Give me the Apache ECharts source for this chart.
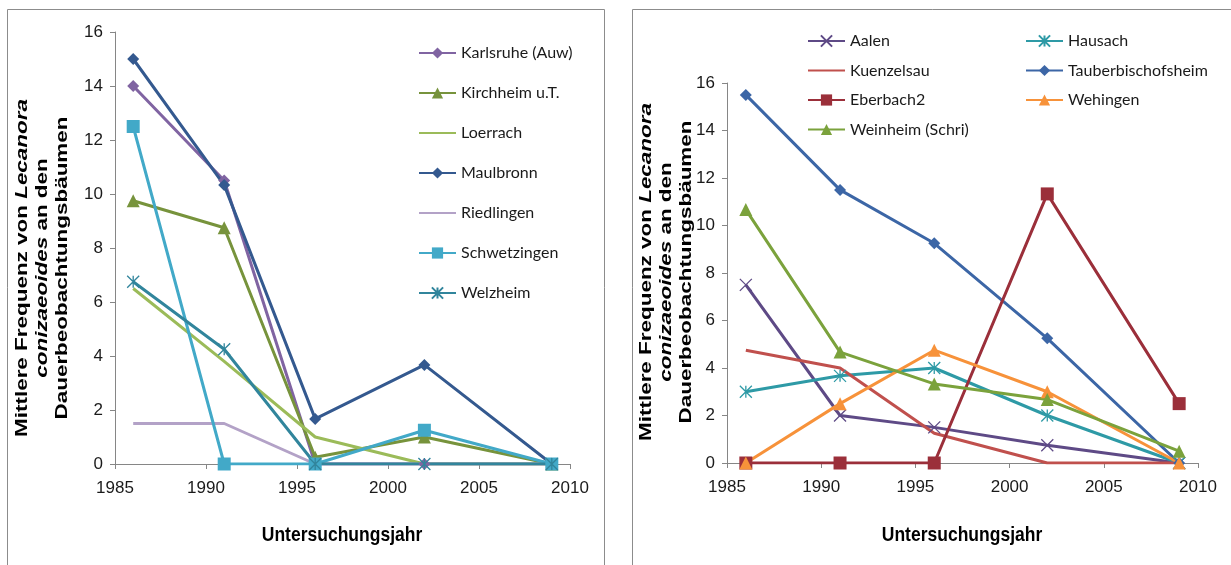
<!DOCTYPE html>
<html>
<head>
<meta charset="utf-8">
<script src="https://cdn.jsdelivr.net/npm/echarts@6/dist/echarts.min.js"></script>
<style>
  html, body { margin: 0; padding: 0; background: #ffffff; }
  #chart { width: 1231px; height: 565px; }
</style>
</head>
<body>
<div id="chart"></div>
<script>
// Survey years (x values shared by all sites)
const years = [1986, 1991, 1996, 2002, 2009];
const xTicks = { min: 1985, max: 2010, step: 5 };
const yTicks = { min: 0, max: 16, step: 2 };

// Left panel: mean frequency per site
const karlsruhe    = [14, 10.5, 0, 0, 0];
const kirchheim    = [9.75, 8.75, 0.25, 1.0, 0];
const loerrach     = [6.5, 3.8, 1.0, 0, 0];
const maulbronn    = [15, 10.33, 1.67, 3.67, 0];
const riedlingen   = [1.5, 1.5, 0, 0, 0];
const schwetzingen = [12.5, 0, 0, 1.25, 0];
const welzheim     = [6.75, 4.25, 0, 0, 0];

// Right panel: mean frequency per site
const aalen        = [7.5, 2.0, 1.5, 0.75, 0];
const hausach      = [3.0, 3.67, 4.0, 2.0, 0];
const kuenzelsau   = [4.75, 4.0, 1.25, 0, 0];
const tauber       = [15.5, 11.5, 9.25, 5.25, 0];
const eberbach2    = [0, 0, 0, 11.33, 2.5];
const wehingen     = [0, 2.5, 4.75, 3.0, 0];
const weinheim     = [10.67, 4.67, 3.33, 2.67, 0.5];

const xTitle = 'Untersuchungsjahr';

const STAR = 'path://M0,0L10,10M10,0L0,10M5,0L5,10';
const CROSS = 'path://M0,0L10,10M10,0L0,10';

function pts(vals) { return years.map((y, i) => [y, vals[i]]); }

function mk(name, vals, color, symbol, size, idx) {
  const s = {
    type: 'line', name: name, data: pts(vals),
    xAxisIndex: idx, yAxisIndex: idx,
    symbol: symbol || 'none', symbolSize: size || 10,
    showSymbol: !!symbol,
    lineStyle: { color: color, width: 3 },
    itemStyle: { color: color },
    emphasis: { disabled: true },
    animation: false
  };
  if (symbol === STAR || symbol === CROSS) {
    s.itemStyle = { color: color, borderColor: color, borderWidth: 1.3 };
  }
  return s;
}

const series = [
  mk('Karlsruhe (Auw)', karlsruhe, '#8064A2', 'diamond', 12, 0),
  mk('Kirchheim u.T.', kirchheim, '#77933C', 'triangle', 13, 0),
  mk('Loerrach', loerrach, '#9BBB59', null, 0, 0),
  mk('Maulbronn', maulbronn, '#34598F', 'diamond', 12, 0),
  mk('Riedlingen', riedlingen, '#B3A2C7', null, 0, 0),
  mk('Schwetzingen', schwetzingen, '#42A9C8', 'rect', 13, 0),
  mk('Welzheim', welzheim, '#31859C', STAR, 12, 0),

  mk('Aalen', aalen, '#5E4A86', CROSS, 12, 1),
  mk('Hausach', hausach, '#2E9AA6', STAR, 12, 1),
  mk('Kuenzelsau', kuenzelsau, '#C0504D', null, 0, 1),
  mk('Tauberbischofsheim', tauber, '#3C66A6', 'diamond', 12, 1),
  mk('Eberbach2', eberbach2, '#9B2F3A', 'rect', 13, 1),
  mk('Wehingen', wehingen, '#F7923A', 'triangle', 13, 1),
  mk('Weinheim (Schri)', weinheim, '#7BA23C', 'triangle', 13, 1)
];

// Sites drawn without markers get a plain line in the legend
const lineOnly = ['Loerrach', 'Riedlingen', 'Kuenzelsau'];
function legendItems(names) {
  return names.map(n => lineOnly.includes(n) ? { name: n, itemStyle: { opacity: 0 } } : n);
}

const axisColor = '#868686';
const tickFont = { fontFamily: 'Liberation Sans, Arial, sans-serif', fontSize: 17, color: '#1a1a1a' };

function xAxis(gi) {
  return {
    type: 'value', gridIndex: gi, min: xTicks.min, max: xTicks.max, interval: xTicks.step,
    axisLine: { show: true, lineStyle: { color: axisColor, width: 1 } },
    axisTick: { show: true, inside: false, length: 5, lineStyle: { color: axisColor } },
    splitLine: { show: false },
    axisLabel: Object.assign({ margin: 16, formatter: v => String(v) }, tickFont)
  };
}
function yAxis(gi) {
  return {
    type: 'value', gridIndex: gi, min: yTicks.min, max: yTicks.max, interval: yTicks.step,
    axisLine: { show: true, lineStyle: { color: axisColor, width: 1 } },
    axisTick: { show: true, inside: false, length: 5, lineStyle: { color: axisColor } },
    splitLine: { show: false },
    axisLabel: Object.assign({ margin: 12 }, tickFont)
  };
}

const legendText = { fontFamily: 'Lato, sans-serif', fontSize: 16, color: '#1a1a1a' };
function legend(left, top, gap, names) {
  return {
    orient: 'vertical', left: left, top: top, itemGap: gap,
    itemWidth: 37, itemHeight: 14, padding: 0,
    selectedMode: false, data: legendItems(names), textStyle: legendText
  };
}

const titleFont = 'Liberation Sans, Arial, sans-serif';
function yTitle(cx, cy) {
  const rich = {
    b: { fontFamily: titleFont, fontWeight: 'bold', fontSize: 17, fill: '#000' },
    i: { fontFamily: titleFont, fontWeight: 'bold', fontStyle: 'italic', fontSize: 17, fill: '#000' }
  };
  const lines = [
    '{b|Mittlere Frequenz von }{i|Lecanora}',
    '{i|conizaeoides}{b| an den}',
    '{b|Dauerbeobachtungsbäumen}'
  ];
  return lines.map((t, k) => ({
    type: 'text', x: cx - 20 + k * 20, y: cy, rotation: Math.PI / 2,
    scaleX: 1.32, silent: true,
    style: { text: t, rich: rich, align: 'center', verticalAlign: 'middle' }
  }));
}
function xTitleText(cx, cy) {
  return {
    type: 'text', x: cx, y: cy, scaleY: 1.2, silent: true,
    style: { text: xTitle, fontFamily: titleFont, fontWeight: 'bold', fontSize: 17.5,
             fill: '#000', align: 'center', verticalAlign: 'middle' }
  };
}

const option = {
  backgroundColor: '#ffffff',
  animation: false,
  grid: [
    { left: 115, top: 32, width: 455, height: 432 },
    { left: 727, top: 83, width: 471, height: 380 }
  ],
  xAxis: [xAxis(0), xAxis(1)],
  yAxis: [yAxis(0), yAxis(1)],
  legend: [
    legend(418, 45, 24, ['Karlsruhe (Auw)', 'Kirchheim u.T.', 'Loerrach', 'Maulbronn',
                         'Riedlingen', 'Schwetzingen', 'Welzheim']),
    legend(807, 33, 13.5, ['Aalen', 'Kuenzelsau', 'Eberbach2', 'Weinheim (Schri)']),
    legend(1025, 33, 13.5, ['Hausach', 'Tauberbischofsheim', 'Wehingen'])
  ],
  graphic: [
    { type: 'rect', silent: true, z: -10, shape: { x: 7.5, y: 9.5, width: 597, height: 580 },
      style: { fill: 'none', stroke: '#8c8c8c', lineWidth: 1 } },
    { type: 'rect', silent: true, z: -10, shape: { x: 632.5, y: 9.5, width: 620, height: 580 },
      style: { fill: 'none', stroke: '#8c8c8c', lineWidth: 1 } },
    ...yTitle(42, 268),
    ...yTitle(666, 272),
    xTitleText(342, 535),
    xTitleText(962, 535)
  ],
  series: series
};

const chart = echarts.init(document.getElementById('chart'), null, { renderer: 'canvas' });
chart.setOption(option);
</script>
</body>
</html>
